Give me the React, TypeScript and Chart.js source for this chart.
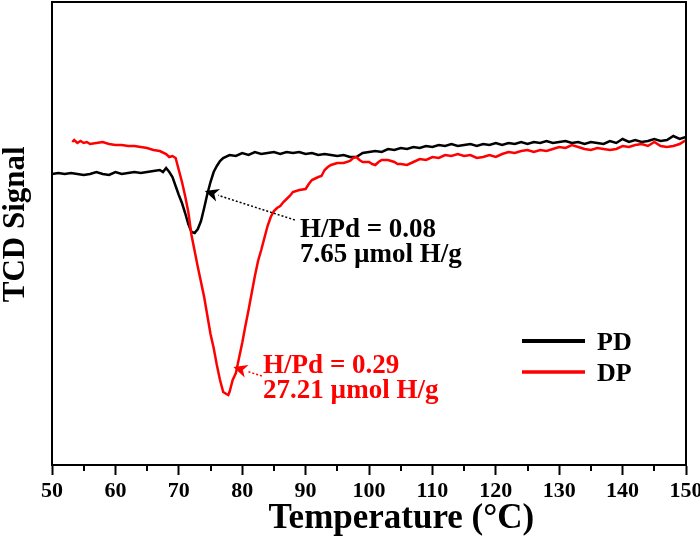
import React, { useEffect, useRef } from 'react';
import { Chart, registerables } from 'chart.js';
Chart.register(...registerables);

const FONT = '"Liberation Serif", "Times New Roman", serif';

// PD sample (black)
const pdTemp = [50, 51, 52, 53, 54, 55, 56, 57, 58, 59, 60, 61, 62, 63, 64, 65, 66, 67, 67.5, 68, 68.5, 69, 70, 70.5, 71, 71.5, 72, 72.5, 73, 73.5, 74, 74.5, 75, 75.5, 76, 76.5, 77, 78, 79, 80, 81, 82, 83, 84, 85, 86, 87, 88, 89, 90, 91, 92, 93, 94, 95, 96, 97, 98, 99, 100, 101, 102, 103, 104, 105, 106, 107, 108, 109, 110, 111, 112, 113, 114, 115, 116, 117, 118, 119, 120, 121, 122, 123, 124, 125, 126, 127, 128, 129, 130, 131, 132, 133, 134, 135, 136, 137, 138, 139, 140, 141, 142, 143, 144, 145, 146, 147, 148, 149, 150];
const pdSignal = [58.2, 58.4, 58.2, 58.4, 58.2, 58.0, 58.2, 58.6, 58.2, 58.0, 58.6, 58.2, 58.4, 58.6, 58.4, 58.6, 58.8, 59.0, 58.6, 59.4, 58.6, 57.6, 54.0, 52.4, 50.4, 48.2, 46.6, 46.4, 47.2, 48.8, 51.4, 54.2, 56.6, 58.6, 59.8, 60.8, 61.4, 62.0, 61.8, 62.4, 62.0, 62.6, 62.2, 62.4, 62.6, 62.2, 62.6, 62.4, 62.6, 62.2, 62.4, 62.0, 62.2, 62.0, 61.8, 62.0, 61.6, 61.6, 62.4, 62.6, 62.8, 62.6, 63.2, 63.0, 63.4, 63.2, 63.6, 63.4, 63.8, 63.6, 64.0, 63.8, 64.2, 63.8, 64.0, 64.2, 63.8, 64.2, 64.0, 64.4, 64.0, 64.4, 64.2, 64.6, 64.2, 64.6, 64.4, 64.8, 64.4, 64.6, 64.8, 64.4, 64.6, 64.2, 64.6, 64.4, 64.2, 64.8, 64.4, 65.2, 64.6, 65.0, 64.6, 64.8, 65.2, 64.8, 65.0, 65.8, 65.2, 65.6];

// DP sample (red)
const dpTemp = [53.2, 53.5, 54, 54.5, 55, 55.5, 56, 57, 58, 59, 60, 61, 62, 63, 64, 65, 66, 67, 68, 68.5, 69, 69.5, 70, 70.5, 71, 71.5, 72, 73, 74, 75, 75.5, 76, 76.5, 77, 77.5, 77.8, 78, 78.5, 79, 79.5, 80, 80.5, 81, 81.5, 82, 82.5, 83, 83.5, 84, 84.5, 85, 85.5, 86, 86.5, 87, 87.5, 88, 89, 90, 90.5, 91, 92, 92.5, 93, 93.5, 94, 95, 96, 97, 97.5, 98, 98.5, 99, 100, 100.5, 101, 101.5, 102, 103, 104, 104.5, 105, 106, 107, 108, 109, 110, 111, 112, 113, 114, 115, 116, 117, 118, 119, 120, 121, 122, 123, 124, 125, 126, 127, 128, 129, 130, 131, 132, 133, 134, 135, 136, 137, 138, 139, 140, 141, 142, 143, 144, 145, 146, 147, 148, 149, 150];
const dpSignal = [64.6, 65.0, 64.4, 64.8, 64.4, 64.6, 64.2, 64.4, 64.6, 64.2, 64.0, 64.0, 63.8, 63.8, 63.6, 63.4, 63.0, 62.8, 62.2, 61.6, 61.8, 61.4, 59.0, 56.6, 53.8, 50.6, 46.0, 39.6, 33.6, 26.2, 23.4, 20.0, 17.0, 14.6, 14.2, 14.0, 14.6, 17.0, 18.4, 21.4, 24.4, 27.8, 31.0, 34.4, 37.8, 40.8, 43.0, 45.4, 47.8, 49.6, 50.8, 51.4, 51.8, 52.6, 53.2, 53.8, 54.6, 55.0, 55.2, 56.2, 57.0, 57.6, 57.8, 59.0, 59.6, 60.0, 60.4, 60.4, 60.8, 61.4, 61.6, 61.0, 60.6, 60.6, 60.2, 60.0, 60.6, 61.0, 61.0, 60.6, 60.2, 60.2, 60.0, 60.6, 61.2, 61.0, 61.6, 61.4, 62.0, 61.8, 62.2, 61.8, 62.0, 61.4, 61.6, 62.0, 61.6, 62.2, 62.6, 62.4, 62.8, 63.0, 62.6, 63.0, 62.8, 63.2, 63.6, 63.4, 64.0, 63.6, 63.2, 63.0, 63.4, 63.2, 63.0, 63.2, 63.8, 63.6, 64.0, 64.2, 63.8, 64.6, 63.8, 63.6, 63.8, 64.2, 65.0];

const seriesLabels = ['PD', 'DP'];
const seriesColors = ['#000000', '#ff0000'];
const minorTicks = [55, 65, 75, 85, 95, 105, 115, 125, 135, 145];
const xTitle = 'Temperature (°C)';
const yTitle = 'TCD Signal';

const notes = [
  { lines: ['H/Pd = 0.08', '7.65 µmol H/g'], color: '#000000', text: [89.1, 45.6], from: [88.3, 49.0], to: [74.1, 54.8] },
  { lines: ['H/Pd = 0.29', '27.21 µmol H/g'], color: '#ff0000', text: [83.3, 18.4], from: [83.1, 17.8], to: [78.6, 19.6] },
];

const framePlugin = {
  id: 'frame',
  afterDraw(chart: any) {
    const { ctx, chartArea } = chart;
    const { left, right, top, bottom } = chartArea;
    const xs = chart.scales.x;
    const ys = chart.scales.y;
    ctx.save();
    ctx.strokeStyle = '#000';
    ctx.lineWidth = 2;
    ctx.beginPath();
    ctx.moveTo(left - 1, top);
    ctx.lineTo(right, top);
    ctx.lineTo(right, bottom + 1);
    ctx.stroke();
    ctx.beginPath();
    for (const v of minorTicks) {
      const px = Math.round(xs.getPixelForValue(v));
      ctx.moveTo(px, bottom);
      ctx.lineTo(px, bottom + 6);
    }
    ctx.stroke();

    // axis titles
    ctx.fillStyle = '#000';
    ctx.font = `bold 35px ${FONT}`;
    ctx.textAlign = 'center';
    ctx.textBaseline = 'alphabetic';
    ctx.fillText(xTitle, left + (right - left) * 0.551, 528);
    ctx.save();
    ctx.translate(24, top + (bottom - top) * 0.48);
    ctx.rotate(-Math.PI / 2);
    ctx.font = `bold 31px ${FONT}`;
    ctx.fillText(yTitle, 0, 0);
    ctx.restore();

    // annotations
    for (const n of notes) {
      const fx = xs.getPixelForValue(n.from[0]);
      const fy = ys.getPixelForValue(n.from[1]);
      const tx = xs.getPixelForValue(n.to[0]);
      const ty = ys.getPixelForValue(n.to[1]);
      const dx = tx - fx, dy = ty - fy;
      const len = Math.hypot(dx, dy);
      const ux = dx / len, uy = dy / len;
      const L = 14, W = 6.5;
      const bx = tx - ux * L, by = ty - uy * L;
      ctx.strokeStyle = n.color;
      ctx.lineWidth = 1.5;
      ctx.setLineDash([2, 2]);
      ctx.beginPath();
      ctx.moveTo(fx, fy);
      ctx.lineTo(bx, by);
      ctx.stroke();
      ctx.setLineDash([]);
      ctx.fillStyle = n.color;
      ctx.beginPath();
      ctx.moveTo(tx, ty);
      ctx.lineTo(bx - uy * W, by + ux * W);
      ctx.lineTo(bx + ux * 4, by + uy * 4);
      ctx.lineTo(bx + uy * W, by - ux * W);
      ctx.closePath();
      ctx.fill();

      ctx.font = `bold 27px ${FONT}`;
      ctx.textBaseline = 'alphabetic';
      ctx.textAlign = 'left';
      const px = xs.getPixelForValue(n.text[0]);
      const py = ys.getPixelForValue(n.text[1]);
      n.lines.forEach((t, i) => ctx.fillText(t, px, py + i * 25));
    }

    // legend
    ctx.font = `bold 26px ${FONT}`;
    ctx.textBaseline = 'alphabetic';
    ctx.textAlign = 'left';
    seriesLabels.forEach((lab, i) => {
      const y = 341 + i * 31;
      ctx.strokeStyle = seriesColors[i];
      ctx.lineWidth = i === 0 ? 4 : 3.5;
      ctx.beginPath();
      ctx.moveTo(right - 164, y);
      ctx.lineTo(right - 101, y);
      ctx.stroke();
      ctx.fillStyle = '#000';
      ctx.fillText(lab, right - 89, y + 9);
    });
    ctx.restore();
  },
};

export default function App() {
  const ref = useRef<HTMLCanvasElement | null>(null);
  useEffect(() => {
    if (!ref.current) return;
    const chart = new Chart(ref.current, {
      type: 'line',
      data: {
        datasets: [
          {
            label: seriesLabels[0],
            data: pdTemp.map((t, i) => ({ x: t, y: pdSignal[i] })),
            borderColor: seriesColors[0],
            borderWidth: 2.5,
            pointRadius: 0,
            tension: 0,
            order: 2,
          },
          {
            label: seriesLabels[1],
            data: dpTemp.map((t, i) => ({ x: t, y: dpSignal[i] })),
            borderColor: seriesColors[1],
            borderWidth: 2.5,
            pointRadius: 0,
            tension: 0,
            order: 1,
          },
        ],
      },
      options: {
        responsive: false,
        animation: false,
        devicePixelRatio: 1,
        layout: { padding: { left: 0, right: 14, top: 2, bottom: 0 } },
        plugins: { legend: { display: false }, tooltip: { enabled: false } },
        scales: {
          x: {
            type: 'linear',
            min: 50,
            max: 150,
            afterFit: (s: any) => { s.height = 71; s.paddingLeft = 0; s.paddingRight = 0; },
            ticks: {
              stepSize: 10,
              maxRotation: 0,
              autoSkip: false,
              padding: 3,
              color: '#000',
              font: { family: FONT, size: 22, weight: 'bold' },
            },
            grid: { drawOnChartArea: false, tickLength: 10, tickWidth: 2, tickColor: '#000', color: '#000' },
            border: { display: true, width: 2, color: '#000' },
            title: { display: false, text: xTitle },
          },
          y: {
            type: 'linear',
            min: 0,
            max: 92.6,
            afterFit: (s: any) => { s.width = 52; },
            ticks: { display: false },
            grid: { display: false },
            border: { display: true, width: 2, color: '#000' },
            title: { display: false, text: yTitle },
          },
        },
      },
      plugins: [framePlugin],
    } as any);
    return () => chart.destroy();
  }, []);
  return (
    <div style={{ position: 'absolute', left: 0, top: 0, width: 700, height: 536, background: '#fff' }}>
      <canvas ref={ref} width={700} height={536} />
    </div>
  );
}
